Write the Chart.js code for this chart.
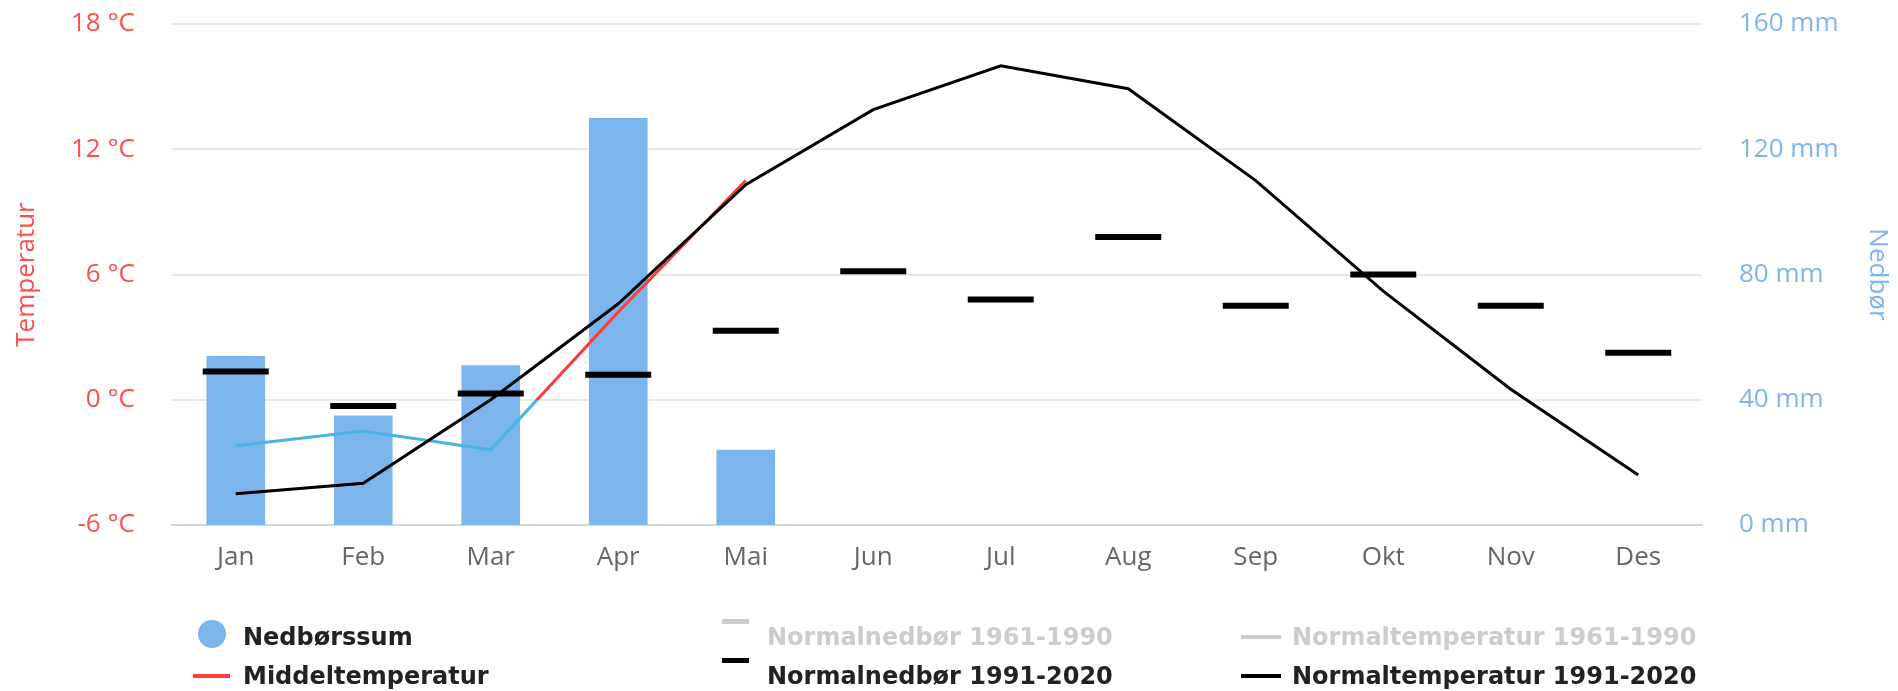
<!DOCTYPE html>
<html>
<head>
<meta charset="utf-8">
<script src="https://cdn.jsdelivr.net/npm/chart.js@4.4.0/dist/chart.umd.min.js"></script>
<style>
  html, body { margin: 0; padding: 0; background: #fff; }
  #wrap { position: relative; width: 1898px; height: 691px; overflow: hidden; }
  #c { position: absolute; left: 0; top: 0; }
  #legend { position: absolute; left: 0; top: 0; width: 1898px; height: 691px; pointer-events: none; }
  .li-text { position: absolute; font-family: "DejaVu Sans", sans-serif; font-weight: bold; font-size: 24px; line-height: 30px; white-space: nowrap; }
  .li-sym { position: absolute; }
</style>
</head>
<body>
<div id="wrap">
  <canvas id="c" width="1898" height="691"></canvas>
  <div id="legend"></div>
</div>
<script>
// ---- data ----
const months = ['Jan', 'Feb', 'Mar', 'Apr', 'Mai', 'Jun', 'Jul', 'Aug', 'Sep', 'Okt', 'Nov', 'Des'];
const nedborssum = [54, 35, 51, 130, 24];
const middeltemperatur = [-2.2, -1.5, -2.4, 4.2, 10.5];
const normalnedbor9120 = [49, 38, 42, 48, 62, 81, 72, 92, 70, 80, 70, 55];
const normaltemp9120 = [-4.5, -4.0, 0.0, 4.6, 10.3, 13.9, 16.0, 14.9, 10.5, 5.2, 0.5, -3.6];
const normalnedbor6190 = [];
const normaltemp6190 = [];
const tempTicks = [-6, 0, 6, 12, 18];
const precipTicks = [0, 40, 80, 120, 160];

const RED = '#ff3a3a';
const NEG_BLUE = '#4ab3e6';
const BAR_BLUE = '#7cb5ec';
const AXIS_RED = '#ff4d4d';
const FONT = '"Open Sans", sans-serif';

function zoneColor(context) {
  const chart = context.chart;
  const area = chart.chartArea;
  if (!area) return RED;
  const y0 = chart.scales.yT.getPixelForValue(0);
  let stop = (y0 - area.top) / (area.bottom - area.top);
  stop = Math.min(1, Math.max(0, stop));
  const g = chart.ctx.createLinearGradient(0, area.top, 0, area.bottom);
  g.addColorStop(0, RED);
  g.addColorStop(stop, RED);
  g.addColorStop(stop, NEG_BLUE);
  g.addColorStop(1, NEG_BLUE);
  return g;
}

function fixY(width) {
  return s => { s.width = width; s.paddingTop = 16; s.paddingBottom = 16; };
}

const chart = new Chart(document.getElementById('c'), {
  type: 'bar',
  data: {
    labels: months,
    datasets: [
      {
        type: 'bar', label: 'Nedbørssum', data: nedborssum, yAxisID: 'yP',
        backgroundColor: BAR_BLUE, borderWidth: 0, barPercentage: 0.46, categoryPercentage: 1.0, order: 10,
        legendSym: 'circle'
      },
      {
        type: 'line', label: 'Normalnedbør 1961-1990', data: normalnedbor6190, yAxisID: 'yP', hidden: true,
        borderColor: '#cccccc', backgroundColor: '#cccccc', showLine: false, order: 5, legendSym: 'dash'
      },
      {
        type: 'line', label: 'Normaltemperatur 1961-1990', data: normaltemp6190, yAxisID: 'yT', hidden: true,
        borderColor: '#cccccc', backgroundColor: '#cccccc', order: 5, legendSym: 'line'
      },
      {
        type: 'line', label: 'Middeltemperatur', data: middeltemperatur, yAxisID: 'yT',
        borderColor: zoneColor, backgroundColor: RED, borderWidth: 3, pointRadius: 0, tension: 0, order: 3,
        legendSym: 'line', legendColor: RED
      },
      {
        type: 'line', label: 'Normalnedbør 1991-2020', data: normalnedbor9120, yAxisID: 'yP',
        showLine: false, pointStyle: 'line', pointRadius: 33, pointHoverRadius: 33,
        pointBorderWidth: 6, pointHoverBorderWidth: 6, borderColor: '#000', pointBorderColor: '#000', backgroundColor: '#000', order: 4,
        legendSym: 'dash'
      },
      {
        type: 'line', label: 'Normaltemperatur 1991-2020', data: normaltemp9120, yAxisID: 'yT',
        borderColor: '#000', backgroundColor: '#000', borderWidth: 3, pointRadius: 0, tension: 0, order: 2,
        legendSym: 'line'
      }
    ]
  },
  options: {
    responsive: false,
    animation: false,
    devicePixelRatio: 1,
    layout: { autoPadding: false, padding: { top: 24, left: 0, right: 0, bottom: 0 } },
    plugins: {
      legend: { display: false },
      tooltip: { enabled: false }
    },
    scales: {
      x: {
        offset: true,
        grid: { display: false, drawTicks: false },
        border: { display: true, color: '#ccd6eb', width: 2 },
        ticks: { color: '#666666', font: { family: FONT, size: 26 }, padding: 17, maxRotation: 0, autoSkip: false },
        afterFit: s => { s.height = 166; }
      },
      yT: {
        type: 'linear', position: 'left', min: -6, max: 18,
        afterBuildTicks: s => { s.ticks = tempTicks.map(v => ({ value: v })); },
        ticks: { color: AXIS_RED, font: { family: FONT, size: 26 }, padding: 37, callback: v => v + ' °C' },
        grid: { color: '#e9e9e9', lineWidth: 2, drawTicks: false },
        border: { display: false },
        title: { display: true, text: 'Temperatur', color: AXIS_RED, font: { family: FONT, size: 26 }, padding: { top: 11, bottom: 0 } },
        afterFit: fixY(172)
      },
      yP: {
        type: 'linear', position: 'right', min: 0, max: 160,
        afterBuildTicks: s => { s.ticks = precipTicks.map(v => ({ value: v })); },
        ticks: { color: BAR_BLUE, font: { family: FONT, size: 26 }, padding: 37, callback: v => v + ' mm' },
        grid: { display: false, drawTicks: false },
        border: { display: false },
        title: { display: true, text: 'Nedbør', color: BAR_BLUE, font: { family: FONT, size: 26 }, padding: { top: 5, bottom: 0 } },
        afterFit: fixY(196)
      }
    }
  },
  plugins: [{
    id: 'htmlLegend',
    afterRender(chart) {
      if (chart.$legendDone) return;
      chart.$legendDone = true;
      const box = document.getElementById('legend');
      const colText = [243, 767, 1292];
      const rowY = [637, 676];
      chart.data.datasets.forEach((ds, i) => {
        const col = i % 3, row = Math.floor(i / 3);
        const visible = chart.isDatasetVisible(i);
        const color = visible ? (ds.legendColor || (typeof ds.backgroundColor === 'string' ? ds.backgroundColor : RED)) : '#cccccc';
        const cy = rowY[row];
        const sym = document.createElement('div');
        sym.className = 'li-sym';
        if (ds.legendSym === 'circle') {
          Object.assign(sym.style, { left: '198px', top: (cy - 17) + 'px', width: '28px', height: '28px', borderRadius: '50%', background: color });
        } else if (ds.legendSym === 'dash') {
          Object.assign(sym.style, { left: '722px', top: (cy - 18) + 'px', width: '27px', height: '5px', background: color });
        } else {
          const x0 = col === 0 ? 193 : 1241;
          const w = col === 0 ? 37 : 40;
          const h = 4;
          Object.assign(sym.style, { left: x0 + 'px', top: (cy - h / 2) + 'px', width: w + 'px', height: h + 'px', background: color });
        }
        box.appendChild(sym);
        const t = document.createElement('div');
        t.className = 'li-text';
        t.textContent = ds.label;
        Object.assign(t.style, { left: colText[col] + 'px', top: (cy - 15) + 'px', color: visible ? '#222222' : '#cccccc' });
        box.appendChild(t);
      });
    }
  }]
});
</script>
</body>
</html>
